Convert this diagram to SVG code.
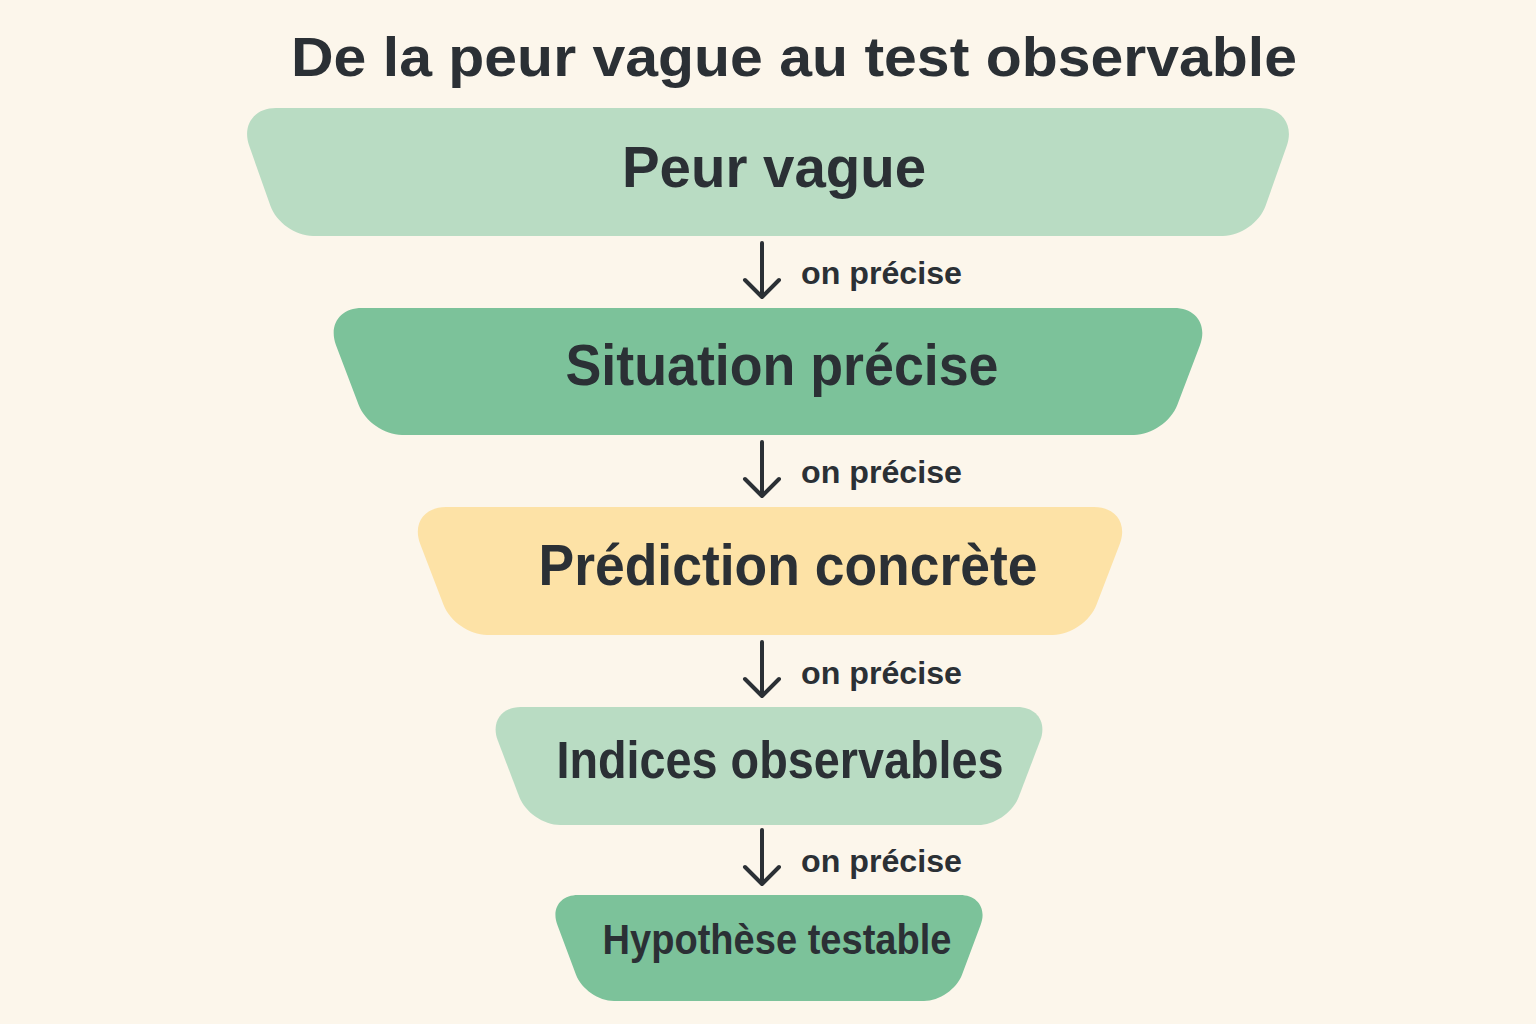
<svg xmlns="http://www.w3.org/2000/svg" width="1536" height="1024" viewBox="0 0 1536 1024">
<style>
text{font-family:"Liberation Sans",Arial,sans-serif;font-weight:bold;fill:#2b3035;text-anchor:middle}
.title{font-size:56px}
.big{font-size:58px}
.lbl{font-size:31px;text-anchor:start}
.light{fill:#b9dcc3}
.mid{fill:#7cc29a}
.yel{fill:#fde2a6}
.arr{fill:none;stroke:#2b3035;stroke-width:4;stroke-linecap:round;stroke-linejoin:round}
</style>
<rect width="1536" height="1024" fill="#fcf6eb"/>
<text class="title" x="794" y="76" textLength="1006" lengthAdjust="spacingAndGlyphs">De la peur vague au test observable</text>

<g id="node-peur-vague">
<path class="light" d="M276,108 L1260,108 C1282,108 1294.1,125 1286.8,145.8 L1265.6,205.8 C1259.8,222.4 1240.6,236 1223,236 L313,236 C295.4,236 276.2,222.4 270.4,205.8 L249.2,145.8 C241.9,125 254,108 276,108 Z"/>
<text class="big" x="774" y="187" textLength="304" lengthAdjust="spacingAndGlyphs">Peur vague</text>
</g>

<g id="node-situation">
<path class="mid" d="M362,308 L1174,308 C1196,308 1207.7,324.8 1199.9,345.4 L1177.3,405.1 C1171.1,421.5 1151.6,435 1134,435 L402,435 C384.4,435 364.9,421.5 358.7,405.1 L336.1,345.4 C328.3,324.8 340,308 362,308 Z"/>
<text class="big" x="782" y="385" textLength="433" lengthAdjust="spacingAndGlyphs">Situation précise</text>
</g>

<g id="node-prediction">
<path class="yel" d="M446,507 L1094,507 C1116,507 1127.6,523.8 1119.7,544.3 L1096.4,605.1 C1090.1,621.5 1070.6,635 1053,635 L487,635 C469.4,635 449.9,621.5 443.6,605.1 L420.3,544.3 C412.4,523.8 424,507 446,507 Z"/>
<text class="big" x="788" y="585" textLength="499" lengthAdjust="spacingAndGlyphs">Prédiction concrète</text>
</g>

<g id="node-indices">
<path class="light" d="M521,707 L1017,707 C1036.8,707 1047.2,722.1 1040.2,740.6 L1018.7,797 C1012.8,812.4 994.5,825 978,825 L560,825 C543.5,825 525.2,812.4 519.3,797 L497.8,740.6 C490.8,722.1 501.2,707 521,707 Z"/>
<text class="big" x="780" y="778" style="font-size:51px" textLength="447" lengthAdjust="spacingAndGlyphs">Indices observables</text>
</g>

<g id="node-hypothese">
<path class="mid" d="M578,895 L960,895 C977.6,895 986.9,908.5 980.6,924.9 L962,974.8 C956.5,989.2 939.4,1001 924,1001 L614,1001 C598.6,1001 581.5,989.2 576,974.8 L557.4,924.9 C551.1,908.5 560.4,895 578,895 Z"/>
<text class="big" x="777" y="954" style="font-size:43px" textLength="349" lengthAdjust="spacingAndGlyphs">Hypothèse testable</text>
</g>

<g id="connectors">
<path class="arr" d="M762,243 V296 M745,280 L762,297 L779,280"/>
<text class="lbl" x="801" y="284" textLength="161" lengthAdjust="spacingAndGlyphs">on précise</text>
<path class="arr" d="M762,442 V495 M745,479 L762,496 L779,479"/>
<text class="lbl" x="801" y="483" textLength="161" lengthAdjust="spacingAndGlyphs">on précise</text>
<path class="arr" d="M762,642 V695 M745,679 L762,696 L779,679"/>
<text class="lbl" x="801" y="684" textLength="161" lengthAdjust="spacingAndGlyphs">on précise</text>
<path class="arr" d="M762,830 V883 M745,867 L762,884 L779,867"/>
<text class="lbl" x="801" y="872" textLength="161" lengthAdjust="spacingAndGlyphs">on précise</text>
</g>
</svg>
